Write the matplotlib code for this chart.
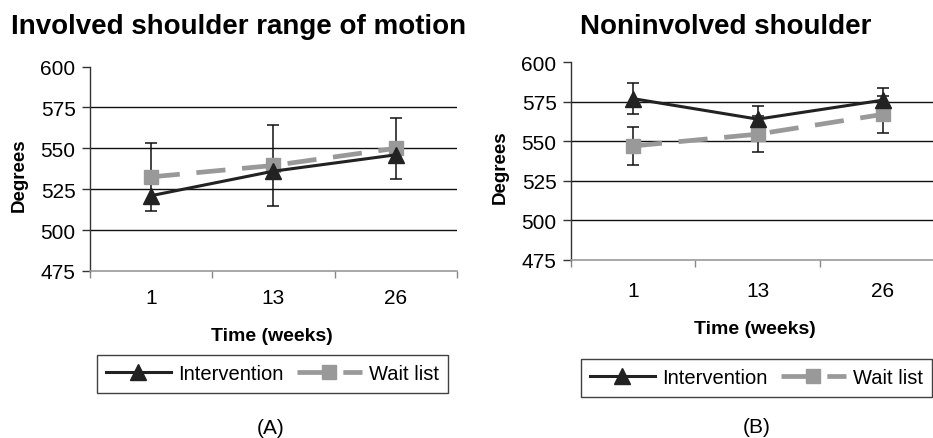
import matplotlib
matplotlib.use("Agg")
import matplotlib.pyplot as plt
from matplotlib.lines import Line2D

plt.rcParams['font.family'] = ['Liberation Sans', 'DejaVu Sans']
plt.rcParams['lines.scale_dashes'] = False

# ---- data ----
time_labels = ['1', '13', '26']
y_ticks = [475, 500, 525, 550, 575, 600]

a_intervention = [521, 536, 546]
a_waitlist = [532.5, 539.5, 550]
a_waitlist_err = [21, 24.5, 18.5]

b_intervention = [577, 564, 576]
b_intervention_err = [9.7, 8.4, 8.0]
b_waitlist = [547, 554.5, 567]
b_waitlist_err = [11.8, 11.6, 11.8]

titles = ['Involved shoulder range of motion', 'Noninvolved shoulder']
series_names = ['Intervention', 'Wait list']
panel_tags = ['(A)', '(B)']

W, H = 933, 439
fig = plt.figure(figsize=(W / 100, H / 100), dpi=100)


def fx(px):
    return px / W


def fy(py):
    return 1 - py / H


def make_axes(left, right, top, bottom):
    return fig.add_axes([fx(left), fy(bottom), fx(right - left), (bottom - top) / H])


INT_COLOR = '#222222'
WL_COLOR = '#999999'


def style_axes(ax, pad):
    x = list(range(1, len(time_labels) + 1))
    ax.set_xlim(0.5, len(time_labels) + 0.5)
    ax.set_ylim(y_ticks[0], y_ticks[-1])
    ax.set_yticks(y_ticks)
    ax.set_yticklabels([str(v) for v in y_ticks], fontsize=15)
    ax.set_xticks(x)
    ax.set_xticklabels(time_labels, fontsize=15)
    ax.set_xticks([v + 0.5 for v in range(0, len(time_labels) + 1)], minor=True)
    ax.tick_params(axis='x', which='major', length=0, pad=pad)
    ax.tick_params(axis='x', which='minor', length=5, width=1, color='#888888', direction='out')
    ax.tick_params(axis='y', which='major', length=6, width=1, color='#333333', direction='out', pad=4)
    for s in ['top', 'right']:
        ax.spines[s].set_visible(False)
    ax.spines['left'].set_color('#333333')
    ax.spines['bottom'].set_color('#999999')
    ax.spines['left'].set_linewidth(1)
    ax.spines['bottom'].set_linewidth(1.2)
    for v in y_ticks[1:-1]:
        ax.axhline(v, color='#111111', lw=1.0, zorder=1)
    ax.set_facecolor('none')
    return x


def draw_series(ax, x, inter, wl, inter_err=None, wl_err=None):
    if wl_err is not None:
        ax.errorbar(x, wl, yerr=wl_err, fmt='none', ecolor='#111111', elinewidth=1.1,
                    capsize=4, capthick=1.1, zorder=2)
    if inter_err is not None:
        ax.errorbar(x, inter, yerr=inter_err, fmt='none', ecolor='#111111', elinewidth=1.1,
                    capsize=4, capthick=1.1, zorder=2)
    ax.plot(x, wl, color=WL_COLOR, lw=3.4, dashes=(21, 12), marker='s', markersize=10,
            markerfacecolor=WL_COLOR, markeredgecolor=WL_COLOR, zorder=3)
    ax.plot(x, inter, color=INT_COLOR, lw=2.2, marker='^', markersize=11,
            markerfacecolor=INT_COLOR, markeredgecolor=INT_COLOR, zorder=4)


# Panel A
axA = make_axes(89.5, 457, 67.5, 272)
xA = style_axes(axA, pad=12)
draw_series(axA, xA, a_intervention, a_waitlist, None, a_waitlist_err)

# Panel B
axB = make_axes(570.5, 945, 63.3, 260.7)
xB = style_axes(axB, pad=15)
draw_series(axB, xB, b_intervention, b_waitlist, b_intervention_err, b_waitlist_err)

# titles
fig.text(fx(11), fy(33.5), titles[0], fontsize=20, fontweight='bold', ha='left', va='baseline')
fig.text(fx(580), fy(33.5), titles[1], fontsize=20, fontweight='bold', ha='left', va='baseline')

# axis labels
fig.text(fx(19), fy(175), 'Degrees', fontsize=13.5, fontweight='bold', rotation=90, ha='center', va='center')
fig.text(fx(500), fy(167), 'Degrees', fontsize=13.5, fontweight='bold', rotation=90, ha='center', va='center')
fig.text(fx(272), fy(337), 'Time (weeks)', fontsize=14, fontweight='bold', ha='center', va='center')
fig.text(fx(755), fy(329), 'Time (weeks)', fontsize=14, fontweight='bold', ha='center', va='center')

# legends
handles = [
    Line2D([], [], color=INT_COLOR, lw=2.2, marker='^', markersize=11,
           markerfacecolor=INT_COLOR, markeredgecolor=INT_COLOR),
    Line2D([], [], color=WL_COLOR, lw=3.4, dashes=(21, 12), marker='s', markersize=10,
           markerfacecolor=WL_COLOR, markeredgecolor=WL_COLOR),
]
for cx, cy in [(272.5, 375), (756.5, 379)]:
    leg = fig.legend(handles, series_names, loc='center', bbox_to_anchor=(fx(cx), fy(cy)),
                     ncol=2, fontsize=14.5, frameon=True, fancybox=False, shadow=False,
                     handlelength=3.2, handletextpad=0.35, columnspacing=0.7,
                     borderpad=0.45, borderaxespad=0)
    leg.get_frame().set_edgecolor('#111111')
    leg.get_frame().set_linewidth(1.0)

# panel tags
fig.text(fx(271), fy(429), panel_tags[0], fontsize=15, ha='center', va='center')
fig.text(fx(757), fy(428), panel_tags[1], fontsize=15, ha='center', va='center')

fig.savefig('out.png', dpi=100)
